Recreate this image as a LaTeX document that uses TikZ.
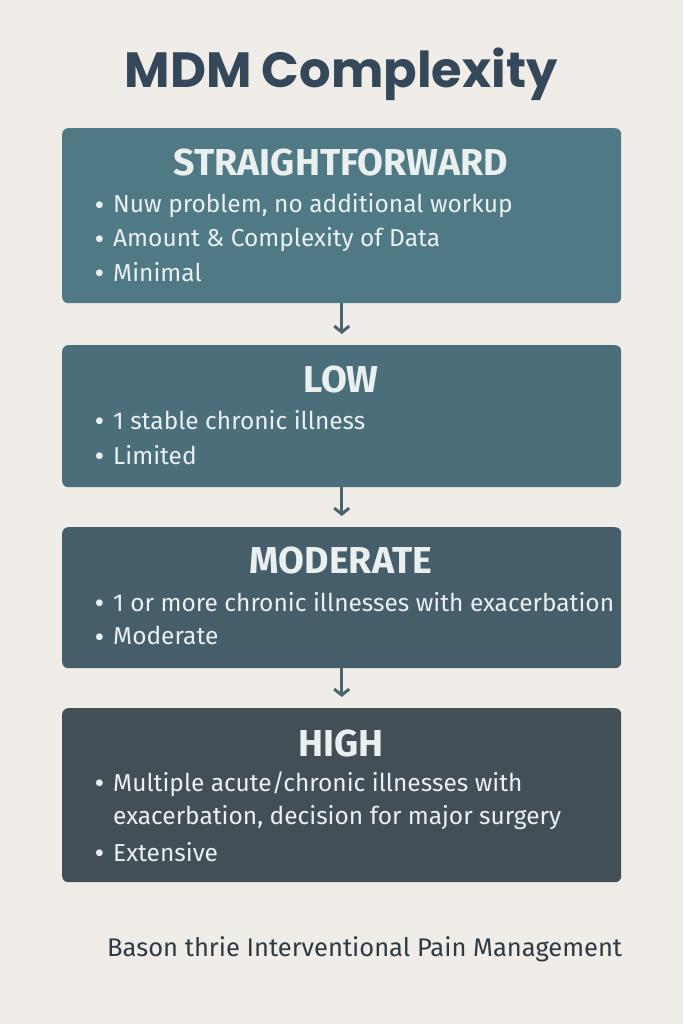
\documentclass[tikz,border=0pt]{standalone}
\usepackage{fontspec}
\setmainfont{Fira Sans}
\newfontfamily\titlefont{Poppins}
\usetikzlibrary{arrows.meta}
\definecolor{bg}{HTML}{F0EDE8}
\definecolor{cA}{HTML}{4F7A85}
\definecolor{cB}{HTML}{4A6E7A}
\definecolor{cC}{HTML}{465E69}
\definecolor{cD}{HTML}{434F57}
\definecolor{ttl}{HTML}{34485A}
\definecolor{txt}{HTML}{EAEFEF}
\definecolor{arr}{HTML}{4A6570}
\definecolor{foot}{HTML}{2E3A44}
\tikzset{
  boxstyle/.style={rounded corners=6pt, minimum width=559pt, inner sep=0pt, draw=none},
  headstyle/.style={text=txt, font=\fontsize{37.5}{40}\selectfont\bfseries, anchor=center, inner sep=0pt},
  itemstyle/.style={text=txt, font=\fontsize{24.5}{34}\selectfont, anchor=west, inner sep=0pt, align=left},
  flowarrow/.style={draw=arr, line width=3pt, -{Straight Barb[length=6pt,width=15pt,line width=3pt]}, shorten >=11pt}
}
\newcommand{\bul}{\makebox[17pt][l]{\hspace{-1.5pt}\raisebox{-2.5pt}{\fontsize{30}{30}\selectfont•}}}
\begin{document}
\begin{tikzpicture}[x=1pt,y=-1pt]
\fill[bg] (0,0) rectangle (683,1024);
\useasboundingbox (0,0) rectangle (683,1024);
\node[text=ttl, font=\fontsize{49.5}{54}\titlefont\bfseries, inner sep=0pt] (title) at (341,74) {MDM Complexity};

\node[boxstyle, fill=cA, minimum height=175pt, anchor=north west] (b1) at (62,128) {};
\node[boxstyle, fill=cB, minimum height=142pt, anchor=north west] (b2) at (62,345) {};
\node[boxstyle, fill=cC, minimum height=141pt, anchor=north west] (b3) at (62,527) {};
\node[boxstyle, fill=cD, minimum height=174pt, anchor=north west] (b4) at (62,708) {};

\node[headstyle] (h1) at (341,163) {STRAIGHTFORWARD};
\node[itemstyle] (i11) at (96,206) {\bul Nuw problem, no additional workup};
\node[itemstyle] (i12) at (96,240) {\bul Amount \& Complexity of Data};
\node[itemstyle] (i13) at (96,273) {\bul Minimal};

\node[headstyle] (h2) at (341,380) {LOW};
\node[itemstyle] (i21) at (96,421) {\bul 1 stable chronic illness};
\node[itemstyle] (i22) at (96,456) {\bul Limited};

\node[headstyle] (h3) at (341,561) {MODERATE};
\node[itemstyle] (i31) at (96,603) {\bul 1 or more chronic illnesses with exacerbation};
\node[itemstyle] (i32) at (96,637) {\bul Moderate};

\node[headstyle] (h4) at (341,743) {HIGH};
\node[itemstyle] (i41) at (96,784) {\bul Multiple acute/chronic illnesses with};
\node[itemstyle] (i42) at (96,818) {\hspace{17pt}exacerbation, decision for major surgery};
\node[itemstyle] (i43) at (96,853) {\bul Extensive};

\node[text=foot, font=\fontsize{25.5}{28}\selectfont, anchor=west, inner sep=0pt] (ft) at (107,949) {Bason thrie Interventional Pain Management};

\draw[flowarrow] (b1.south) -- (b2.north);
\draw[flowarrow] (b2.south) -- (b3.north);
\draw[flowarrow] (b3.south) -- (b4.north);
\end{tikzpicture}
\end{document}
